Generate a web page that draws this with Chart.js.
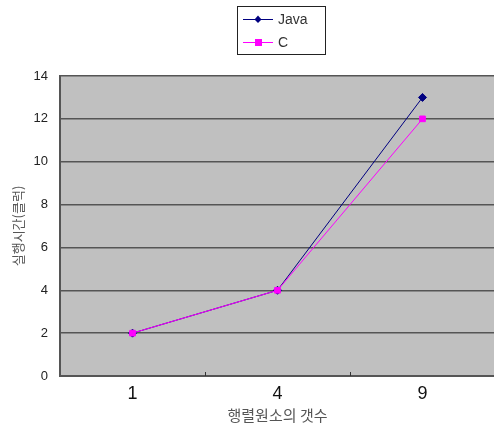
<!DOCTYPE html>
<html>
<head>
<meta charset="utf-8">
<script src="https://cdn.jsdelivr.net/npm/chart.js@4/dist/chart.umd.min.js"></script>
<style>
  html, body { margin: 0; padding: 0; background: #fff; overflow: hidden; }
  #wrap { width: 500px; height: 429px; }
</style>
</head>
<body>
<div id="wrap"><canvas id="c" width="500" height="429"></canvas></div>
<script>
// Matrix element count vs. execution time (clocks)
const categories = ['1', '4', '9'];
const javaValues = [2, 4, 13];
const cValues = [2, 4, 12];
const yTicks = [0, 2, 4, 6, 8, 10, 12, 14];

const PLOT_BG = '#c0c0c0';

// Grey plotting area behind the lines
const plotBackground = {
  id: 'plotBackground',
  beforeDraw(chart) {
    const { ctx, chartArea: a } = chart;
    ctx.save();
    ctx.fillStyle = PLOT_BG;
    ctx.fillRect(a.left, a.top, a.right - a.left, a.bottom - a.top);
    ctx.restore();
  },
  afterDatasetsDraw(chart) {
    // small category separators on the bottom axis
    const { ctx, chartArea: a } = chart;
    const x = chart.scales.x;
    ctx.save();
    ctx.strokeStyle = '#333';
    ctx.lineWidth = 1;
    for (let i = 0; i < categories.length - 1; i++) {
      const px = Math.round((x.getPixelForValue(i) + x.getPixelForValue(i + 1)) / 2) + 0.5;
      ctx.beginPath();
      ctx.moveTo(px, a.bottom);
      ctx.lineTo(px, a.bottom - 4);
      ctx.stroke();
    }
    ctx.restore();
  }
};

// Boxed legend above the plot
const boxedLegend = {
  id: 'boxedLegend',
  afterDraw(chart) {
    const { ctx } = chart;
    const bx = 237.5, by = 6.5, bw = 88, bh = 48;
    ctx.save();
    ctx.fillStyle = '#fff';
    ctx.fillRect(bx, by, bw, bh);
    ctx.strokeStyle = '#222';
    ctx.lineWidth = 1;
    ctx.strokeRect(bx, by, bw, bh);
    chart.data.datasets.forEach((ds, i) => {
      const y = 19 + i * 23;
      ctx.strokeStyle = ds.borderColor;
      ctx.lineWidth = 1;
      ctx.beginPath();
      ctx.moveTo(243, y + 0.5);
      ctx.lineTo(273, y + 0.5);
      ctx.stroke();
      ctx.fillStyle = ds.pointBackgroundColor;
      if (ds.pointStyle === 'rectRot') {
        ctx.beginPath();
        ctx.moveTo(258, y - 3.5);
        ctx.lineTo(261.5, y + 0.5);
        ctx.lineTo(258, y + 4);
        ctx.lineTo(254.5, y + 0.5);
        ctx.closePath();
        ctx.fill();
      } else {
        ctx.fillRect(255, y - 3, 7, 7);
      }
      ctx.fillStyle = '#333';
      ctx.font = '14px "Liberation Sans", Arial, sans-serif';
      ctx.textBaseline = 'middle';
      ctx.fillText(ds.label, 278, y + 1);
    });
    ctx.restore();
  }
};

new Chart(document.getElementById('c'), {
  type: 'line',
  data: {
    labels: categories,
    datasets: [
      {
        label: 'Java',
        data: javaValues,
        borderColor: '#000080',
        backgroundColor: '#000080',
        pointBackgroundColor: '#000080',
        pointBorderColor: '#000080',
        pointStyle: 'rectRot',
        pointRadius: 4,
        borderWidth: 1,
        tension: 0,
        order: 1
      },
      {
        label: 'C',
        data: cValues,
        borderColor: '#ff00ff',
        backgroundColor: '#ff00ff',
        pointBackgroundColor: '#ff00ff',
        pointBorderColor: '#ff00ff',
        pointStyle: 'rect',
        pointRadius: 4,
        borderWidth: 1,
        tension: 0,
        order: 0
      }
    ]
  },
  options: {
    responsive: false,
    animation: false,
    layout: { padding: { top: 76, right: 4, left: 10, bottom: 5 } },
    plugins: {
      legend: { display: false },
      tooltip: { enabled: false }
    },
    scales: {
      x: {
        type: 'category',
        offset: true,
        grid: { display: false, drawTicks: false },
        border: { display: true, color: '#555', width: 2 },
        ticks: {
          color: '#111',
          font: { family: '"Liberation Sans", Arial, sans-serif', size: 18 },
          padding: 7
        },
        title: {
          display: true,
          text: '행렬원소의 갯수',
          color: '#555',
          font: { family: '"Noto Sans CJK KR", sans-serif', size: 15 },
          padding: { top: 0, bottom: 0 }
        },
        afterFit(scale) { scale.height = 48; }
      },
      y: {
        min: 0,
        max: 14,
        afterBuildTicks(scale) { scale.ticks = yTicks.map(v => ({ value: v })); },
        grid: {
          color: (c) => (c.tick && c.tick.value === 0 ? 'rgba(0,0,0,0)' : '#555'),
          lineWidth: 1.5,
          drawTicks: false
        },
        border: { display: true, color: '#555', width: 2 },
        ticks: {
          color: '#222',
          font: { family: '"Liberation Sans", Arial, sans-serif', size: 13 },
          padding: 12
        },
        title: {
          display: true,
          text: '실행시간(클럭)',
          color: '#555',
          font: { family: '"Noto Sans CJK KR", sans-serif', size: 13 },
          padding: { top: 0, bottom: 2 }
        },
        afterFit(scale) { scale.width = 50; }
      }
    }
  },
  plugins: [plotBackground, boxedLegend]
});
</script>
</body>
</html>
